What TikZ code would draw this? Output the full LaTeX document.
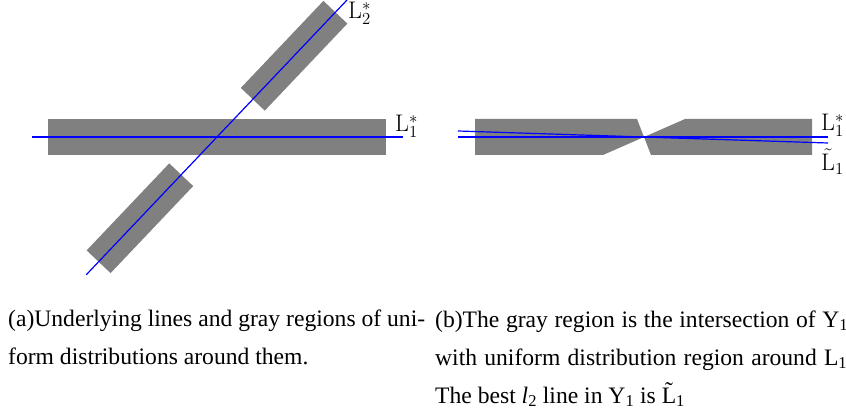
\RequirePackage{fix-cm}
\documentclass[tikz,border=0pt]{standalone}
\usepackage[no-math]{fontspec}
\setmainfont{Liberation Serif}
\usepackage{tikz}
\usetikzlibrary{calc}
\tikzset{
  % regions and lines
  band/.style={fill=gray, draw=none},
  trueline/.style={blue, line width=1.2pt},
  % texts
  lbl/.style={anchor=base west, inner sep=0pt, font=\fontsize{24}{28}\selectfont},
  capt/.style={anchor=base west, inner sep=0pt, align=left, font=\fontsize{23.6}{38}\selectfont},
}

\begin{document}
\begin{tikzpicture}[x=1pt, y=1pt]
    \useasboundingbox (0,0) rectangle (846,413);
    \clip (0,0) rectangle (846,413);

    % (a) horizontal band around L1*
    \fill[band] (48,258) rectangle (386,294);
    \coordinate (a1s) at (32,276);
    \coordinate (a1e) at (403,276);

    % (a) band around L2*, cut near the crossing
    \begin{scope}[shift={(217,276)}, rotate=46.5]
      \fill[band] (52,-16.5) rectangle (172,16.5);
      \fill[band] (-172,-16.5) rectangle (-52,16.5);
      \coordinate (a2s) at (-190,0);
      \coordinate (a2e) at (189,0);
    \end{scope}

    \draw[trueline] (a1s) -- (a1e);
    \draw[trueline] (a2s) -- (a2e);
    \node[lbl] (la1) at (395,281) {$\mathrm{L}_1^*$};
    \node[lbl] (la2) at (348,394) {$\mathrm{L}_2^*$};

    % (b) intersection region
    \fill[band] (475,294) -- (637,294) -- (644,276) -- (603,258) -- (475,258) -- cycle;
    \fill[band] (685,294) -- (812,294) -- (812,258) -- (651,258) -- (644,276) -- cycle;
    \coordinate (b1s) at (458,276);
    \coordinate (b1e) at (828,276);
    \coordinate (b2s) at (458,282);
    \coordinate (b2e) at (828,270);
    \draw[trueline] (b1s) -- (b1e);
    \draw[trueline] (b2s) -- (b2e);
    \node[lbl] (lb1) at (821,282) {$\mathrm{L}_1^*$};
    \node[lbl] (lb2) at (821,242) {$\tilde{\mathrm{L}}_1$};

    % Captions (base anchor = last line)
    \node[capt] (capa) at (8,49) {\makebox[417pt][s]{(a)Underlying lines and gray regions of uni-}\\form distributions around them.};
    \node[capt] (capb) at (435,10) {\makebox[413pt][s]{(b)The gray region is the intersection of Y\textsubscript{1}}\\\makebox[412pt][s]{with uniform distribution region around L\textsubscript{1}}\\The best \textit{l}\textsubscript{2} line in Y\textsubscript{1} is \~{L}\textsubscript{1}};
\end{tikzpicture}
\end{document}
